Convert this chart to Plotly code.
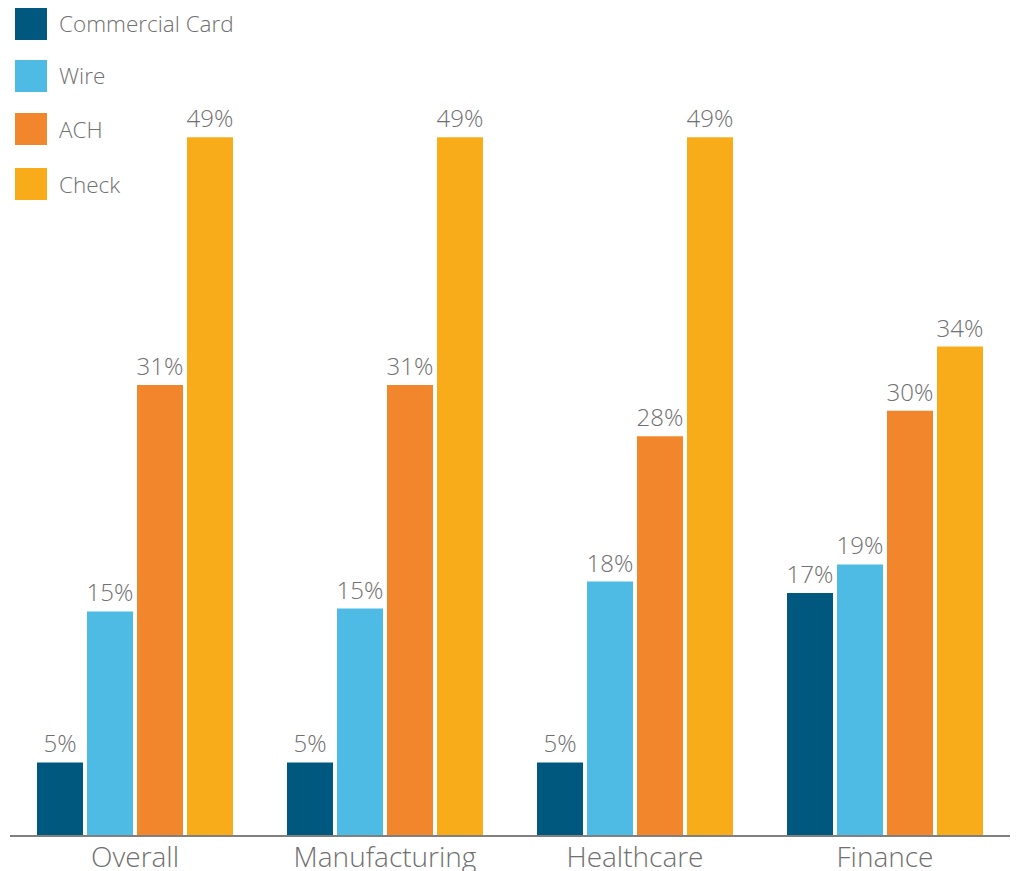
import plotly.graph_objects as go

categories = ["Overall", "Manufacturing", "Healthcare", "Finance"]
series_names = ["Commercial Card", "Wire", "ACH", "Check"]
commercial_card = [5.1, 5.1, 5.1, 17.0]
wire = [15.7, 15.9, 17.8, 19.0]
ach = [31.6, 31.6, 28.0, 29.8]
check = [49.0, 49.0, 49.0, 34.3]
label_cc = ["5%", "5%", "5%", "17%"]
label_wire = ["15%", "15%", "18%", "19%"]
label_ach = ["31%", "31%", "28%", "30%"]
label_check = ["49%", "49%", "49%", "34%"]
colors = ["#00587F", "#4DBBE4", "#F2862D", "#F9AC1A"]

values = [commercial_card, wire, ach, check]
labels = [label_cc, label_wire, label_ach, label_check]

# page has an 8px body margin; figure origin sits at page (8, 8)
OFF = 8
W, H = 1002, 863
ML, MR, MT, MB = 2, 0, 0, 36
PW, PH = W - ML - MR, H - MT - MB
FONT = "Open Sans"
GREY = "#707070"

fig = go.Figure()
for name, vals, labs, col in zip(series_names, values, labels, colors):
    fig.add_trace(go.Bar(
        x=categories, y=vals, name=name, marker_color=col,
        marker_line_width=0,
        text=labs, textposition="outside", cliponaxis=False,
        constraintext="none",
        textfont=dict(family=FONT, size=24, color=GREY, weight=300),
        showlegend=False,
    ))

def px_x(px):
    return (px - OFF - ML) / PW

def px_y(py):
    return (H - MB - (py - OFF)) / PH

legend_tops = [8, 60, 113, 168]
shapes = []
annotations = []
for name, col, top in zip(series_names, colors, legend_tops):
    shapes.append(dict(type="rect", xref="paper", yref="paper",
                       x0=px_x(15), x1=px_x(47), y0=px_y(top + 32), y1=px_y(top),
                       fillcolor=col, line_width=0))
    annotations.append(dict(xref="paper", yref="paper", x=px_x(57), y=px_y(top + 16),
                            text=name, showarrow=False, xanchor="left", yanchor="middle",
                            font=dict(family=FONT, size=22.5, color=GREY, weight=300)))

fig.update_layout(
    width=W, height=H,
    margin=dict(l=ML, r=MR, t=MT, b=MB),
    paper_bgcolor="white", plot_bgcolor="white",
    barmode="group", bargap=0.2, bargroupgap=0.08,
    shapes=shapes, annotations=annotations,
    xaxis=dict(showline=True, linecolor="#808080", linewidth=2, ticks="",
               tickfont=dict(family=FONT, size=28, color=GREY, weight=300),
               ticklabelstandoff=-4,
               automargin=False, showgrid=False, zeroline=False),
    yaxis=dict(range=[0, PH / 14.24], visible=False, showgrid=False, zeroline=False),
)

fig.write_html("out.html")
